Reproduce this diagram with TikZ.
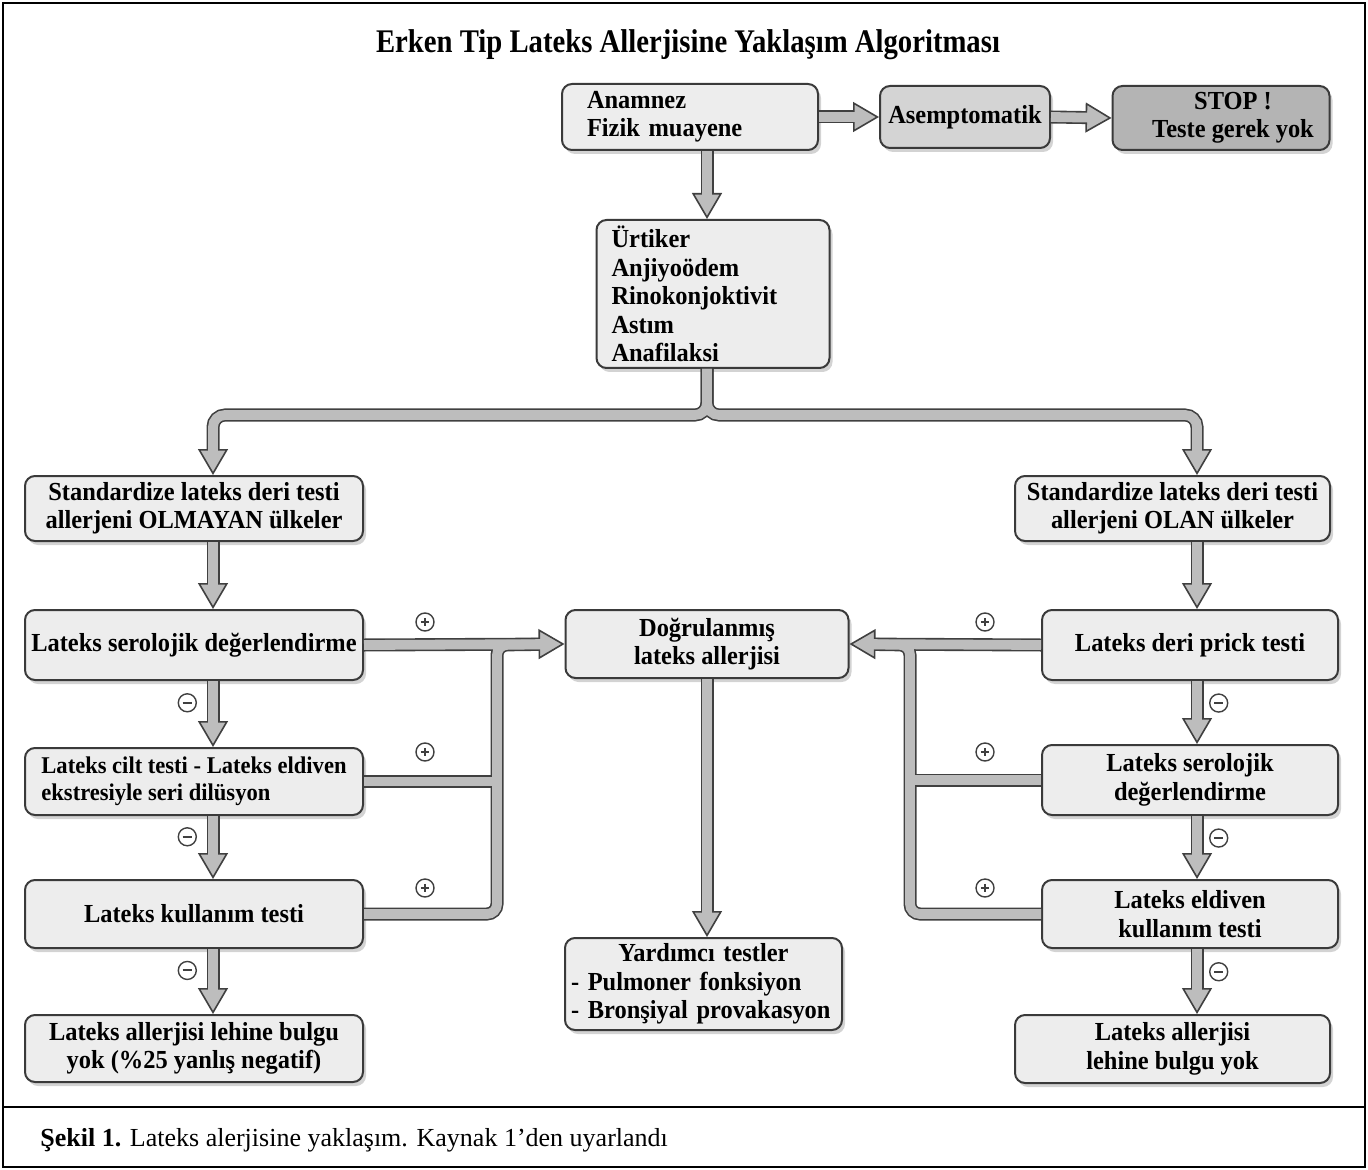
\documentclass[tikz,border=0pt]{standalone}
\usepackage{fontspec}
\setmainfont{Liberation Serif}
\newfontfamily\titlefont{Liberation Serif}[FakeStretch=0.87]
\newfontfamily\boxfont{Liberation Serif}[FakeStretch=0.94]
\usetikzlibrary{arrows.meta,shadows}

\definecolor{boxfill}{HTML}{EDEDED}
\definecolor{boxedge}{HTML}{3A3A3A}
\definecolor{asemfill}{HTML}{D4D4D4}
\definecolor{stopfill}{HTML}{B4B4B4}
\definecolor{pipeedge}{HTML}{404040}
\definecolor{pipefill}{HTML}{BDBDBD}

\tikzset{
  box/.style={draw=boxedge, line width=1pt, fill=boxfill, rounded corners=5pt,
    drop shadow={shadow xshift=1.5pt, shadow yshift=-2pt, opacity=0.35},
    font=\boxfont\bfseries\fontsize{13}{14.2}\selectfont, inner sep=0pt, align=center},
  pipe/.style={draw=pipeedge, line width=6.5pt},
  core/.style={draw=pipefill, line width=4.9pt},
  tip/.style={-{Triangle[length=13pt, width=15pt, fill=pipefill, line width=0.8pt]}},
  hollow/.style={pipe, tip, postaction={core, arrows=-, shorten >=11.5pt}},
  sign/.style={circle, draw=pipeedge, line width=0.7pt, minimum size=9pt, inner sep=0pt, fill=white},
  minus/.style={sign, path picture={
    \draw[arrows=-, draw=pipeedge, line width=1pt] ([xshift=2.2pt]path picture bounding box.west) -- ([xshift=-2.2pt]path picture bounding box.east);}},
  plus/.style={sign, path picture={
    \draw[arrows=-, draw=pipeedge, line width=0.9pt] ([xshift=2.4pt]path picture bounding box.west) -- ([xshift=-2.4pt]path picture bounding box.east)
      ([yshift=-2.4pt]path picture bounding box.north) -- ([yshift=2.4pt]path picture bounding box.south);}},
}

\begin{document}
\begin{tikzpicture}[x=0.5pt, y=-0.5pt]
    \useasboundingbox (0,0) rectangle (1368,1170);
    \draw[line width=1pt] (3,3) rectangle (1365,1167);
    \draw[line width=1.3pt] (3,1107) -- (1365,1107);

    \node[anchor=base, font=\titlefont\bfseries\fontsize{16.5}{18}\selectfont] (title) at (688,53)
        {Erken Tip Lateks Allerjisine Yaklaşım Algoritması};
    \node[anchor=base west, inner sep=0pt, font=\fontsize{13}{14}\selectfont] (cap) at (40,1146)
        {\textbf{Şekil 1.} Lateks alerjisine yaklaşım. Kaynak 1’den uyarlandı};

    % top row
    \node[box, align=left, text width=103pt, inner xsep=12.5pt, minimum height=33pt] (anam) at (690,117)
        {Anamnez\\Fizik muayene};
    \node[box, fill=asemfill, minimum width=85pt, minimum height=31pt] (asem) at (965,117) {Asemptomatik};
    \node[box, fill=stopfill, minimum width=108.5pt, minimum height=32pt] (stop) at (1221,118)
        {\hspace*{12pt}STOP !\\\hspace*{12pt}Teste gerek yok};
    \node[box, align=left, text width=101.5pt, inner xsep=7.5pt, minimum height=74pt] (sympt) at (713,294)
        {Ürtiker\\Anjiyoödem\\Rinokonjoktivit\\Astım\\Anafilaksi};

    % left column
    \node[box, minimum width=169pt, minimum height=32.5pt] (nolat) at (194,508.5)
        {Standardize lateks deri testi\\allerjeni OLMAYAN ülkeler};
    \node[box, minimum width=169pt, minimum height=35pt] (serL) at (194,645) {Lateks serolojik değerlendirme};
    \node[box, align=left, minimum width=169pt, minimum height=33.5pt,
          font=\boxfont\bfseries\fontsize{12}{13.5}\selectfont] (cilt) at (194,781.5)
        {Lateks cilt testi - Lateks eldiven\\ekstresiyle seri dilüsyon};
    \node[box, minimum width=169pt, minimum height=34pt] (kull) at (194,914) {Lateks kullanım testi};
    \node[box, minimum width=169pt, minimum height=33.5pt] (noneg) at (194,1048.5)
        {Lateks allerjisi lehine bulgu\\yok (\%25 yanlış negatif)};

    % middle column
    \node[box, minimum width=141.5pt, minimum height=34pt] (conf) at (707,644) {Doğrulanmış\\lateks allerjisi};
    \node[box, align=left, text width=132.5pt, inner xsep=3pt, minimum height=46pt] (help) at (703.5,984)
        {\makebox[132.5pt]{Yardımcı testler}\\- Pulmoner fonksiyon\\- Bronşiyal provakasyon};

    % right column
    \node[box, minimum width=157.5pt, minimum height=32.5pt] (lat) at (1172.5,508.5)
        {Standardize lateks deri testi\\allerjeni OLAN ülkeler};
    \node[box, minimum width=148pt, minimum height=35pt] (prick) at (1190,645) {Lateks deri prick testi};
    \node[box, minimum width=148pt, minimum height=35pt] (serR) at (1190,780) {Lateks serolojik\\değerlendirme};
    \node[box, minimum width=148pt, minimum height=34pt] (eld) at (1190,914) {Lateks eldiven\\kullanım testi};
    \node[box, minimum width=157.5pt, minimum height=34pt] (noR) at (1172.5,1049)
        {Lateks allerjisi\\lehine bulgu yok};

    \coordinate (lx) at (213,415);
    \coordinate (rx) at (1197,415);
    \coordinate (lt) at (497,0);
    \coordinate (rt) at (910,0);

    % top arrows
    \draw[hollow] (anam.east) -- (asem.west);
    \draw[hollow] (asem.east) -- (stop.west);
    \draw[hollow] (anam.south -| conf) -- (sympt.north -| conf);

    % split
    \draw[pipe, tip, rounded corners=6pt] (sympt.south -| conf) -- (conf |- lx) -- (lx) -- (lx |- nolat.north);
    \draw[pipe, tip, rounded corners=6pt] (sympt.south -| conf) -- (conf |- rx) -- (rx) -- (rx |- lat.north);
    \draw[core, rounded corners=6pt, shorten >=11.5pt] (sympt.south -| conf) -- (conf |- lx) -- (lx) -- (lx |- nolat.north);
    \draw[core, rounded corners=6pt, shorten >=11.5pt] (sympt.south -| conf) -- (conf |- rx) -- (rx) -- (rx |- lat.north);

    % left column arrows
    \draw[hollow] (nolat.south -| lx) -- (serL.north -| lx);
    \draw[hollow] (serL.south -| lx) -- node[minus, pos=0.33, left=8pt] (m1) {} (cilt.north -| lx);
    \draw[hollow] (cilt.south -| lx) -- node[minus, pos=0.33, left=8pt] (m2) {} (kull.north -| lx);
    \draw[hollow] (kull.south -| lx) -- node[minus, pos=0.33, left=8pt] (m3) {} (noneg.north -| lx);

    % right column arrows
    \draw[hollow] (lat.south -| rx) -- (prick.north -| rx);
    \draw[hollow] (prick.south -| rx) -- node[minus, pos=0.35, right=6pt] (m4) {} (serR.north -| rx);
    \draw[hollow] (serR.south -| rx) -- node[minus, pos=0.35, right=6pt] (m5) {} (eld.north -| rx);
    \draw[hollow] (eld.south -| rx) -- node[minus, pos=0.35, right=6pt] (m6) {} (noR.north -| rx);

    \draw[hollow] (conf.south) -- (help.north -| conf);

    % left tree: outlines, then cores
    \draw[pipe, tip] (serL.east) -- (conf.west);
    \draw[pipe, rounded corners=5pt, shorten >=12.5pt] (kull.east) -| (lt |- serL.east) -- (conf.west);
    \draw[pipe] (cilt.east) -- (cilt.east -| lt);
    \draw[core, shorten >=11.5pt] (serL.east) -- (conf.west);
    \draw[core, rounded corners=5pt, shorten >=11.5pt] (kull.east) -| (lt |- serL.east) -- (conf.west);
    \draw[core] (cilt.east) -- (cilt.east -| lt);

    % right tree
    \draw[pipe, tip] (prick.west) -- (conf.east);
    \draw[pipe, rounded corners=5pt, shorten >=12.5pt] (eld.west) -| (rt |- prick.west) -- (conf.east);
    \draw[pipe] (serR.west) -- (serR.west -| rt);
    \draw[core, shorten >=11.5pt] (prick.west) -- (conf.east);
    \draw[core, rounded corners=5pt, shorten >=11.5pt] (eld.west) -| (rt |- prick.west) -- (conf.east);
    \draw[core] (serR.west) -- (serR.west -| rt);

    \node[plus] (p1) at (425,622) {};
    \node[plus] (p2) at (425,752) {};
    \node[plus] (p3) at (425,888) {};
    \node[plus] (p4) at (985,622) {};
    \node[plus] (p5) at (985,752) {};
    \node[plus] (p6) at (985,888) {};
\end{tikzpicture}
\end{document}
